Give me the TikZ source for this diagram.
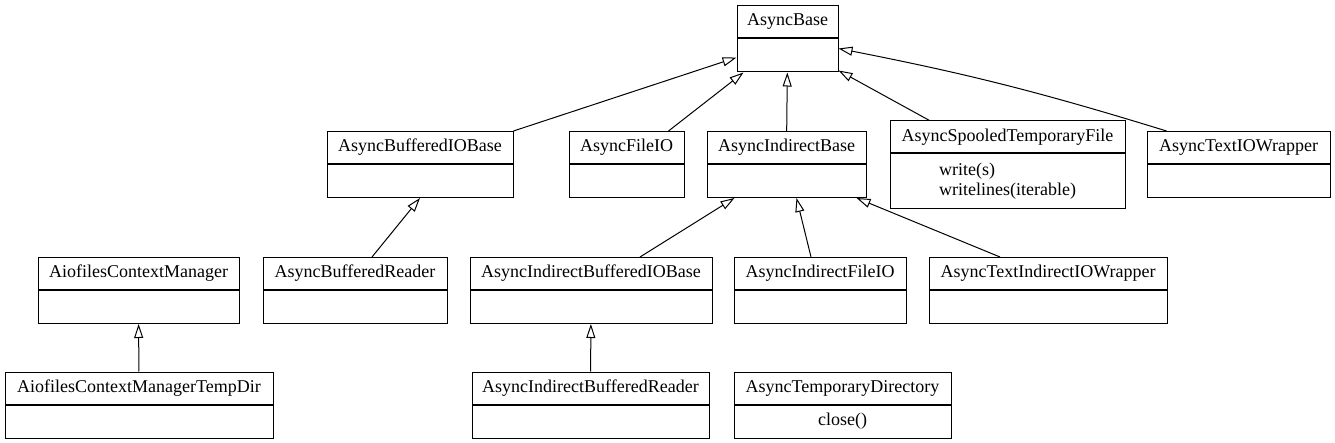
\documentclass[tikz,border=0pt]{standalone}
\usepackage{fontspec}
\setmainfont{Liberation Serif}
\newfontfamily\classfont{Liberation Serif}
\usetikzlibrary{positioning}
\usetikzlibrary{arrows.meta}

\tikzset{
  classname/.style={draw, line width=1pt, inner sep=0pt, minimum height=32pt, font=\classfont\fontsize{18}{20}\selectfont},
  classbody/.style={draw, line width=1pt, inner sep=0pt, minimum height=33pt, font=\classfont\fontsize{18}{20}\selectfont},
  inherit/.style={-{Triangle[open, length=14pt, width=9pt]}, line width=1pt}
}

\begin{document}
\begin{tikzpicture}[x=1pt, y=-1pt]

\useasboundingbox (0,0) rectangle (1335,443);

% Base class
\node[classname, minimum width=101pt] (base) at (787.5,22) {AsyncBase};
\node[classbody, minimum width=101pt, below=0pt of base] (base-body) {};

% Second row
\node[classname, minimum width=186pt] (bufio) at (420,147.5) {AsyncBufferedIOBase};
\node[classbody, minimum width=186pt, below=0pt of bufio] (bufio-body) {};

\node[classname, minimum width=115pt] (fileio) at (626.5,147.5) {AsyncFileIO};
\node[classbody, minimum width=115pt, below=0pt of fileio] (fileio-body) {};

\node[classname, minimum width=159pt] (indbase) at (786.5,147.5) {AsyncIndirectBase};
\node[classbody, minimum width=159pt, below=0pt of indbase] (indbase-body) {};

\node[classname, minimum width=235pt] (spooled) at (1007.5,137) {AsyncSpooledTemporaryFile};
\node[classbody, minimum width=235pt, minimum height=55pt, align=left, below=0pt of spooled] (spooled-body) {write(s)\\writelines(iterable)};

\node[classname, minimum width=183pt] (textio) at (1238.5,147.5) {AsyncTextIOWrapper};
\node[classbody, minimum width=183pt, below=0pt of textio] (textio-body) {};

% Third row
\node[classname, minimum width=201pt] (aiocm) at (138.5,273.5) {AiofilesContextManager};
\node[classbody, minimum width=201pt, below=0pt of aiocm] (aiocm-body) {};

\node[classname, minimum width=184pt] (bufreader) at (355,273.5) {AsyncBufferedReader};
\node[classbody, minimum width=184pt, below=0pt of bufreader] (bufreader-body) {};

\node[classname, minimum width=242pt] (indbufio) at (591,273.5) {AsyncIndirectBufferedIOBase};
\node[classbody, minimum width=242pt, below=0pt of indbufio] (indbufio-body) {};

\node[classname, minimum width=172pt] (indfileio) at (820,273.5) {AsyncIndirectFileIO};
\node[classbody, minimum width=172pt, below=0pt of indfileio] (indfileio-body) {};

\node[classname, minimum width=238pt] (textind) at (1048,273.5) {AsyncTextIndirectIOWrapper};
\node[classbody, minimum width=238pt, below=0pt of textind] (textind-body) {};

% Fourth row
\node[classname, minimum width=268pt] (aiocmtmp) at (139,388) {AiofilesContextManagerTempDir};
\node[classbody, minimum width=268pt, below=0pt of aiocmtmp] (aiocmtmp-body) {};

\node[classname, minimum width=237pt] (indbufreader) at (590.5,388) {AsyncIndirectBufferedReader};
\node[classbody, minimum width=237pt, below=0pt of indbufreader] (indbufreader-body) {};

\node[classname, minimum width=217pt] (tmpdir) at (842.5,388) {AsyncTemporaryDirectory};
\node[classbody, minimum width=217pt, below=0pt of tmpdir] (tmpdir-body) {close()};

% Inheritance
\draw[inherit] (bufio.north east) -- ([yshift=-2pt]base-body.west);
\draw[inherit] ([xshift=42pt]fileio.north) -- ([xshift=7pt]base-body.south west);
\draw[inherit] (indbase) -- (base-body);
\draw[inherit] ([xshift=40pt]spooled.north west) -- ([yshift=2pt]base-body.south east);
\draw[inherit] ([xshift=20pt]textio.north west) to[bend right=3] ([yshift=7pt]base-body.east);

\draw[inherit] ([xshift=17pt]bufreader.north) -- (bufio-body.south);
\draw[inherit] ([xshift=49pt]indbufio.north) -- ([xshift=-52pt]indbase-body.south);
\draw[inherit] ([xshift=-9pt]indfileio.north) -- ([xshift=10pt]indbase-body.south);
\draw[inherit] ([xshift=-48pt]textind.north) -- ([xshift=70pt]indbase-body.south);

\draw[inherit] (aiocmtmp) -- (aiocm-body);
\draw[inherit] (indbufreader) -- (indbufio-body);

\end{tikzpicture}
\end{document}
